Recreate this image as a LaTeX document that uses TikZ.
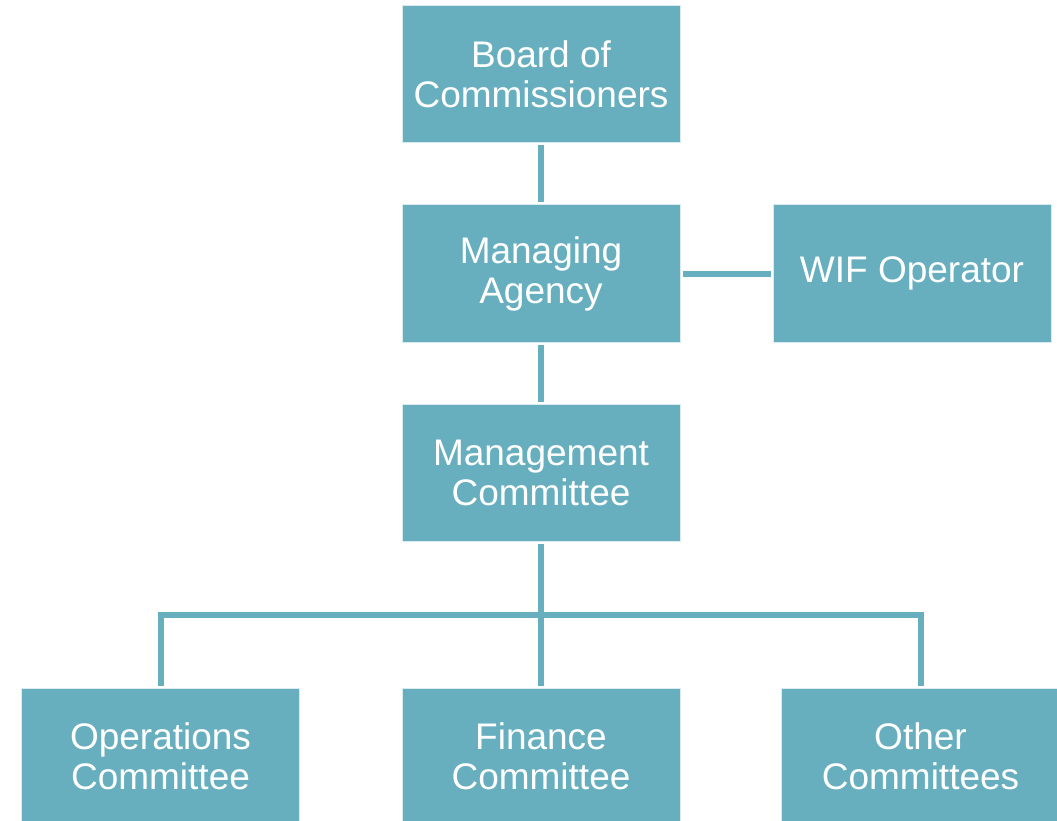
\documentclass[tikz,border=0pt]{standalone}
\usepackage{fontspec}
\setmainfont{Liberation Sans}
\definecolor{teal1}{HTML}{67AFBE}
\begin{document}
\begin{tikzpicture}[x=1pt,y=-1pt,
  box/.style={rectangle,fill=teal1,draw=white!75!teal1,line width=1pt,minimum width=278pt,minimum height=137pt,
    text=white,align=center,inner sep=0pt,font=\fontsize{37}{40}\selectfont},
  conn/.style={draw=teal1,line width=6pt,line join=miter}]
\useasboundingbox (0,0) rectangle (1057,821);
\node[box] (bc) at (541,74.5) {Board of\\Commissioners};
\node[box] (ma) at (541,273.5) {Managing\\Agency};
\node[box] (wif) at (912,273.5) {WIF Operator};
\node[box] (mc) at (541,472.5) {Management\\Committee};
\node[box] (ops) at (160.5,756.5) {Operations\\Committee};
\node[box] (fin) at (541,756.5) {Finance\\Committee};
\node[box] (oth) at (920.5,756.5) {Other\\Committees};
\draw[conn,shorten <=2pt,shorten >=2pt] (bc.south) -- (ma.north);
\draw[conn,shorten <=2pt,shorten >=2pt] (ma.east) -- (wif.west);
\draw[conn,shorten <=2pt,shorten >=2pt] (ma.south) -- (mc.north);
\draw[conn,shorten <=2pt] (mc.south) -- ++(0,73) coordinate (bus);
\draw[conn,shorten <=2pt] (ops.north) |- (bus);
\draw[conn,shorten <=2pt] (oth.north) |- (bus);
\draw[conn,shorten <=2pt] (fin.north) -- (bus);
\end{tikzpicture}
\end{document}
